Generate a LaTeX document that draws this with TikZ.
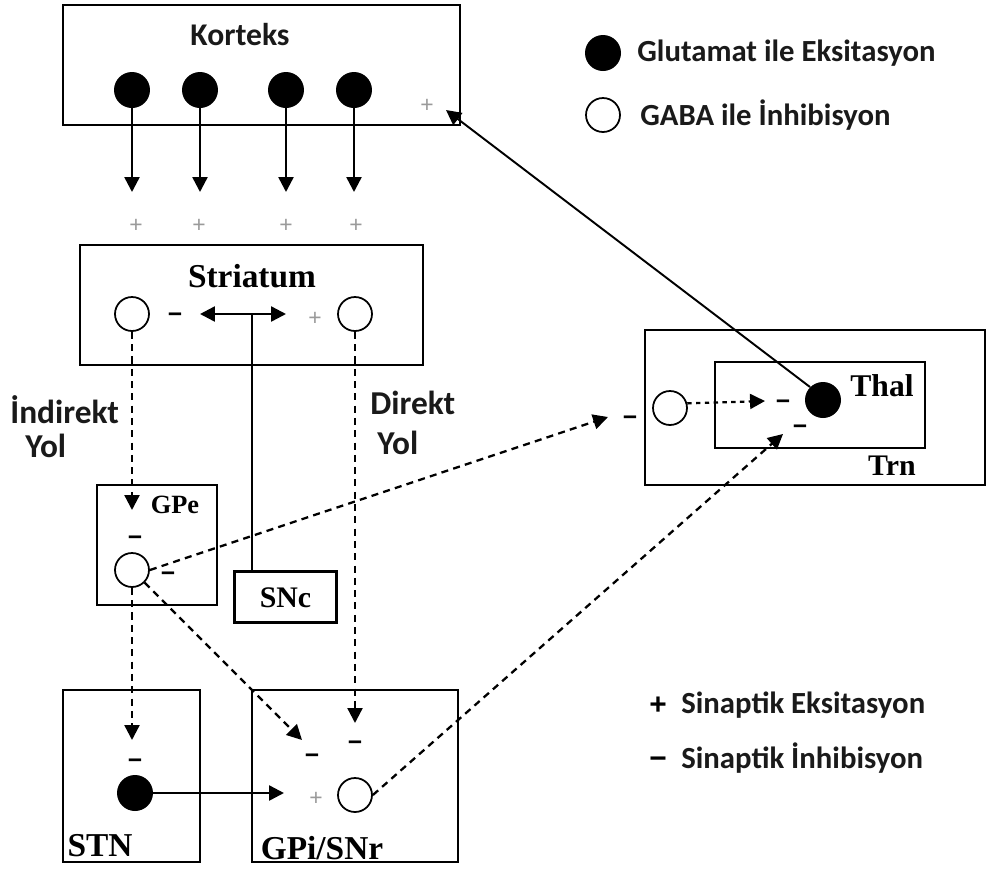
\documentclass[tikz,border=0pt]{standalone}
\usepackage{fontspec}
\setmainfont{Carlito}
\newfontfamily\timesfont{Liberation Serif}
\newfontfamily\signfont{Liberation Sans}
\usetikzlibrary{arrows.meta}
\definecolor{NeuroInk}{HTML}{1A1A1A}
\definecolor{NeuroGray}{HTML}{9A9A9A}

\begin{document}
\begin{tikzpicture}[x=0.02cm, y=-0.02cm,
    box/.style={draw, line width=1.3pt, inner sep=0pt},
    exc/.style={circle, fill=black, minimum size=0.72cm, inner sep=0pt},
    inh/.style={circle, draw, line width=1pt, minimum size=0.68cm, inner sep=0pt},
    sig/.style={font=\signfont\bfseries\fontsize{14}{14}\selectfont, inner sep=0pt,
      text height=9.6pt, text depth=0pt},
    legsig/.style={font=\signfont\bfseries\fontsize{17}{17}\selectfont, inner sep=0pt,
      text height=11.7pt, text depth=0pt},
    psig/.style={text=NeuroGray, font=\signfont\fontsize{13}{13}\selectfont, inner sep=0pt,
      text height=9pt, text depth=0pt},
    sans/.style={text=NeuroInk, font=\bfseries\fontsize{#1}{#1}\selectfont, inner sep=0pt},
    sans/.default=17.5,
    serif/.style={font=\timesfont\bfseries\fontsize{#1}{#1}\selectfont, inner sep=0pt},
    arr/.style={-{Triangle[width=8.5pt,length=8.5pt]}, line width=1.4pt},
    darr/.style={arr, line width=1.3pt, dash pattern=on 4pt off 3pt},
    dotarr/.style={arr, line width=1.3pt, dash pattern=on 2.5pt off 2.5pt}]
  \useasboundingbox (0,0) rectangle (988,870);

  % boxes
  \node[box, minimum width=7.94cm, minimum height=2.4cm] (korteks) at (261.5,65) {};
  \node[box, minimum width=6.86cm, minimum height=2.4cm] (striatum) at (251.5,305) {};
  \node[box, minimum width=2.4cm, minimum height=2.4cm] (gpe) at (157,545) {};
  \node[box, minimum width=2.04cm, minimum height=1.02cm] (snc) at (285.5,597) {};
  \node[box, minimum width=2.74cm, minimum height=3.44cm] (stn) at (131.5,776) {};
  \node[box, minimum width=4.12cm, minimum height=3.44cm] (gpi) at (355,776) {};
  \node[box, minimum width=6.8cm, minimum height=3.1cm] (trn) at (815,407.5) {};
  \node[box, minimum width=4.2cm, minimum height=1.72cm] (thal) at (820,405) {};

  % box titles
  \node[sans=18] (kortekslbl) at (240,35) {Korteks};
  \node[serif=19] (striatumlbl) at (252,276) {Striatum};
  \node[serif=15] (gpelbl) at (175,505) {GPe};
  \node[serif=17] (snclbl) at (285.5,598) {SNc};
  \node[serif=19] (stnlbl) at (100,846) {STN};
  \node[serif=19] (gpilbl) at (322,848) {GPi/SNr};
  \node[serif=18] (thallbl) at (882,386) {Thal};
  \node[serif=17] (trnlbl) at (892,466) {Trn};

  % neurons
  \node[exc] (k1) at (132,90) {};
  \node[exc] (k2) at (200,90) {};
  \node[exc] (k3) at (286,90) {};
  \node[exc] (k4) at (354,90) {};
  \node[inh] (sl) at (132,314) {};
  \node[inh] (sr) at (355,314) {};
  \node[inh] (gpec) at (132,570) {};
  \node[exc] (stnc) at (135,793) {};
  \node[inh] (gpic) at (355,795) {};
  \node[inh] (trnc) at (670,408) {};
  \node[exc] (thalc) at (823,400) {};

  % signs
  \foreach \x [count=\i] in {136,199,286,356}
    \node[psig] (kp\i) at (\x,225) {+};
  \node[psig] (kortp) at (427,105) {+};
  \node[sig] (slm) at (175,314) {−};
  \node[psig] (srp) at (315,318) {+};
  \node[sig] (gpem) at (135,537) {−};
  \node[sig] (gpem2) at (168,573) {−};
  \node[sig] (stnm) at (135,760) {−};
  \node[sig] (gpim1) at (312,755) {−};
  \node[sig] (gpim2) at (355,742) {−};
  \node[psig] (gpip) at (316,798) {+};
  \node[sig] (trnm) at (630,417) {−};
  \node[sig] (thalm1) at (783,401) {−};
  \node[sig] (thalm2) at (800,426) {−};

  % path labels
  \node[sans=19, anchor=west] (indirekt) at (10,410) {İndirekt};
  \node[sans=19, anchor=west] (yol1) at (25,446) {Yol};
  \node[sans=19, anchor=west] (direkt) at (370,403) {Direkt};
  \node[sans=19, anchor=west] (yol2) at (377,443) {Yol};

  % free ends
  \foreach \n/\x in {1/132,2/200,3/286,4/354}
    \coordinate (kt\n) at (\x,192);
  \coordinate (dl) at (200,314);
  \coordinate (dr) at (286,314);
  \coordinate (dm) at (252,314);
  \coordinate (gpetip) at (132,510);
  \coordinate (stntip) at (132,740);
  \coordinate (gpitip1) at (302,740);
  \coordinate (gpitip2) at (355,723);
  \coordinate (gpitip3) at (284,793);
  \coordinate (trntip) at (608,417);
  \coordinate (thaltip1) at (765,401);
  \coordinate (thaltip2) at (783,434);
  \coordinate (kortip) at (446,110);

  % connections
  \foreach \n in {1,...,4}
    \draw[arr] (k\n) -- (kt\n);
  \draw[arr, {Triangle[width=8.5pt,length=8.5pt]}-{Triangle[width=8.5pt,length=8.5pt]}] (dl) -- (dr);
  \draw[line width=1pt] (dm) -- (dm |- snc.north);
  \draw[darr] (sl) -- (gpetip);
  \draw[darr] (sr) -- (gpitip2);
  \draw[darr] (gpec) -- (stntip);
  \draw[darr] (gpec.south east) -- (gpitip1);
  \draw[darr] (gpec.east) -- (trntip);
  \draw[darr] (gpic.east) -- (thaltip2);
  \draw[arr] (stnc) -- (gpitip3);
  \draw[dotarr] (trnc.15) -- (thaltip1);
  \draw[arr, line width=1.1pt] (thalc.north west) -- (kortip);

  % legend
  \node[exc] (legexc) at (603,53) {};
  \node[sans, anchor=west] (legexclbl) at (637,53) {Glutamat ile Eksitasyon};
  \node[inh] (leginh) at (603,115) {};
  \node[sans, anchor=west] (leginhlbl) at (640,115) {GABA ile İnhibisyon};
  \node[legsig] (legplus) at (658,704) {+};
  \node[sans, anchor=west] (legpluslbl) at (681,705) {Sinaptik Eksitasyon};
  \node[legsig] (legminus) at (658,758) {−};
  \node[sans, anchor=west] (legminuslbl) at (681,758) {Sinaptik İnhibisyon};
\end{tikzpicture}
\end{document}
